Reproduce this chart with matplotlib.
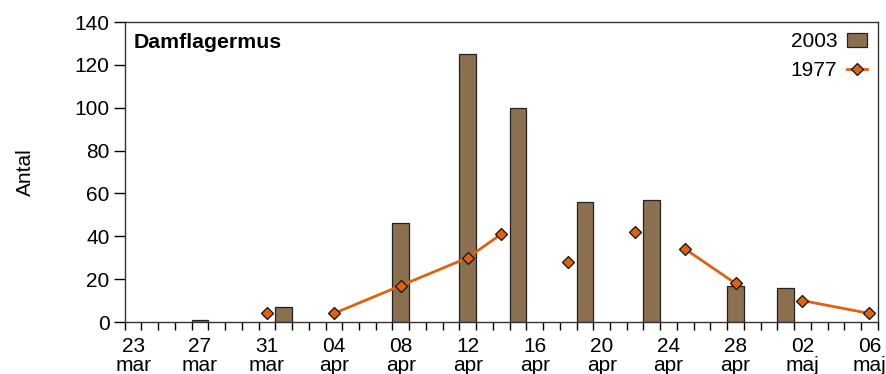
import matplotlib
matplotlib.use("Agg")
import matplotlib.pyplot as plt
from matplotlib.lines import Line2D
from matplotlib.patches import Patch

plt.rcParams['font.family'] = ['Liberation Sans', 'DejaVu Sans']

# Day index: 0 = 23 mar ... 44 = 06 maj (45 days)
n_days = 45
tick_labels = ["23\nmar", "27\nmar", "31\nmar", "04\napr", "08\napr", "12\napr",
               "16\napr", "20\napr", "24\napr", "28\napr", "02\nmaj", "06\nmaj"]

# 2003 bars (day index, count)
days_2003 = [4, 9, 16, 20, 23, 27, 31, 36, 39]
vals_2003 = [1, 7, 46, 125, 100, 56, 57, 17, 16]

# 1977 points (day index, count, connected-segment id)
days_1977 = [8, 12, 16, 20, 22, 26, 30, 33, 36, 40, 44]
vals_1977 = [4, 4, 17, 30, 41, 28, 42, 34, 18, 10, 4]
seg_1977 = [0, 1, 1, 1, 1, 2, 3, 4, 4, 5, 5]

bar_color = '#8B7050'
line_color = '#E0620F'
fs = 15

fig = plt.figure(figsize=(8.87, 3.74), dpi=100)
ax = fig.add_axes([0.1406, 0.139, 0.849, 0.802])

ax.bar([d + 0.5 for d in days_2003], vals_2003, width=1.0, color=bar_color,
       edgecolor='#222222', linewidth=0.9, zorder=2)

for s in sorted(set(seg_1977)):
    xs = [d + 0.5 for d, g in zip(days_1977, seg_1977) if g == s]
    ys = [v for v, g in zip(vals_1977, seg_1977) if g == s]
    ax.plot(xs, ys, color=line_color, linewidth=2, zorder=3)
ax.plot([d + 0.5 for d in days_1977], vals_1977, linestyle='none', marker='D',
        markersize=6.5, markerfacecolor=line_color, markeredgecolor='#111111',
        markeredgewidth=0.9, zorder=4)

ax.set_xlim(0, n_days)
ax.set_ylim(0, 140)
ax.set_yticks(range(0, 141, 20))
ax.tick_params(axis='y', direction='out', length=8, width=1, labelsize=fs, pad=3)

ax.set_xticks(range(0, n_days + 1))
ax.set_xticklabels([])
ax.tick_params(axis='x', which='major', direction='out', length=5.5, width=1)
ax.set_xticks([i + 0.5 for i in range(0, n_days, 4)], minor=True)
ax.set_xticklabels(tick_labels, minor=True, fontsize=fs, linespacing=0.95)
ax.tick_params(axis='x', which='minor', length=0, pad=11)

for sp in ax.spines.values():
    sp.set_color('#333333')
    sp.set_linewidth(1)

ax.set_ylabel('Antal', fontsize=fs, labelpad=28)
ax.text(0.012, 0.963, 'Damflagermus', transform=ax.transAxes, fontsize=15.3,
        fontweight='bold', va='top', ha='left')

handles = [Patch(facecolor=bar_color, edgecolor='#222222', linewidth=0.9),
           Line2D([], [], color=line_color, linewidth=2, marker='D', markersize=6.5,
                  markerfacecolor=line_color, markeredgecolor='#111111', markeredgewidth=0.9)]
ax.legend(handles, ['2003', '1977'], loc='upper right', frameon=False,
          markerfirst=False, fontsize=fs, handlelength=1.0, handletextpad=0.45,
          labelspacing=0.45, borderaxespad=0.1)

fig.savefig('out.png', dpi=100)
